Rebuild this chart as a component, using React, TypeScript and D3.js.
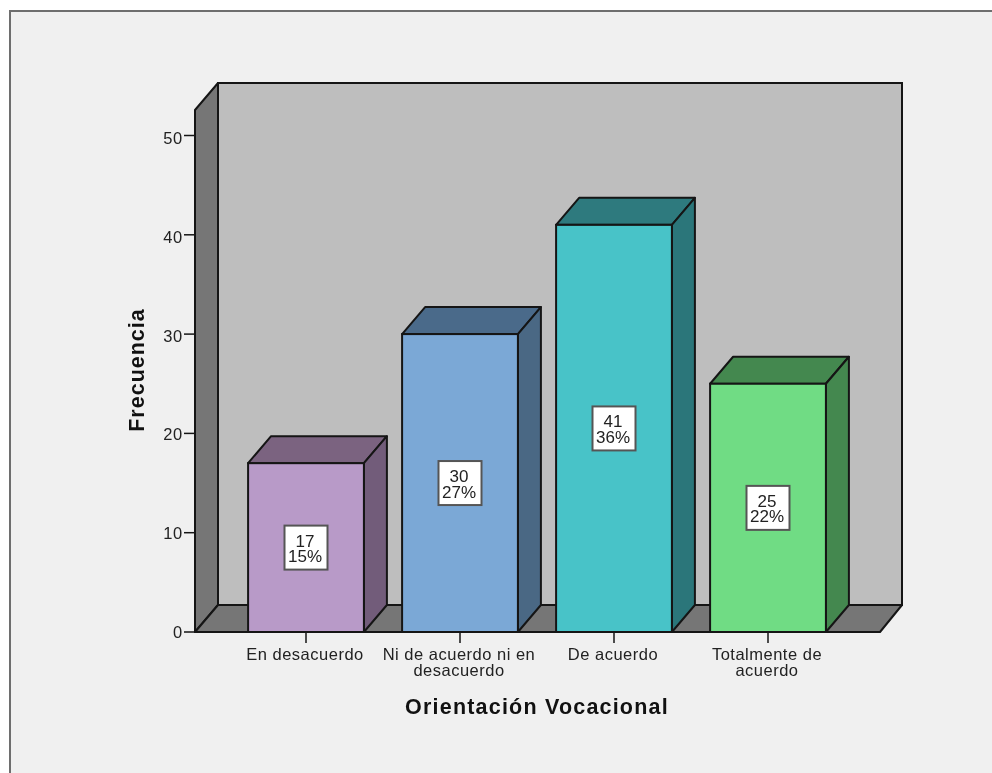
import React from "react";
import * as d3 from "d3";

const categories = ["En desacuerdo", "Ni de acuerdo ni en desacuerdo", "De acuerdo", "Totalmente de acuerdo"];
const categoryLines = [["En desacuerdo"], ["Ni de acuerdo ni en", "desacuerdo"], ["De acuerdo"], ["Totalmente de", "acuerdo"]];
const counts = [17, 30, 41, 25];
const percents = ["15%", "27%", "36%", "22%"];
const frontColors = ["#b89ac8", "#7ba8d6", "#48c3c8", "#70dc84"];
const sideColors = ["#725c7a", "#4a6884", "#2b767a", "#44884f"];
const topColors = ["#7b6380", "#4a6a8a", "#2e7a7e", "#44884f"];
const yTicks = [0, 10, 20, 30, 40, 50];

const W = 992, H = 773;
const FONT = "'Liberation Sans', Arial, sans-serif";
const INK = "#151515";

export default function App() {
  const y = d3.scaleLinear().domain([0, 50]).range([632, 135.5]);
  const x = d3.scaleBand<string>().domain(categories).range([229, 845]).paddingInner(0.248).paddingOuter(0.124);
  const dx = 23, dy = 27;
  const left = 195, right = 880, base = y(0), top = 110;
  const poly = (pts: number[][]) => pts.map((p) => p.join(",")).join(" ");
  return (
    <svg width={W} height={H} style={{ position: "absolute", left: 0, top: 0, display: "block", filter: "blur(0.35px)" }} fontFamily={FONT}>
      <rect width={W} height={H} fill="#ffffff" />
      <rect x={10} y={11} width={W} height={H} fill="#f0f0f0" stroke="#6e6e6e" strokeWidth={2} />
      {/* back wall */}
      <polygon points={poly([[left + dx, top - dy], [right + dx - 1, top - dy], [right + dx - 1, base - dy], [left + dx, base - dy]])} fill="#bebebe" stroke={INK} strokeWidth={2} />
      {/* left wall */}
      <polygon points={poly([[left, top], [left + dx, top - dy], [left + dx, base - dy], [left, base]])} fill="#767676" stroke={INK} strokeWidth={2} strokeLinejoin="round" />
      {/* floor */}
      <polygon points={poly([[left, base], [left + dx, base - dy], [right + dx - 1, base - dy], [right, base]])} fill="#767676" stroke={INK} strokeWidth={2} strokeLinejoin="round" />
      {/* y axis */}
      {yTicks.map((t) => (
        <g key={t}>
          <line x1={left - 11} x2={left} y1={y(t)} y2={y(t)} stroke={INK} strokeWidth={1.5} />
          <text x={left - 12.5} y={y(t) + 6 + t * 0.05} textAnchor="end" fontSize={16.5} letterSpacing={0.4} fill="#222">{t}</text>
        </g>
      ))}
      {/* bars */}
      {categories.map((c, i) => {
        const x0 = x(c)!, x1 = x0 + x.bandwidth(), yv = y(counts[i]), cx = (x0 + x1) / 2;
        const ly = yv + (base - yv) / 2;
        return (
          <g key={c}>
            <polygon points={poly([[x0, yv], [x0 + dx, yv - dy], [x1 + dx, yv - dy], [x1, yv]])} fill={topColors[i]} stroke={INK} strokeWidth={2} strokeLinejoin="round" />
            <polygon points={poly([[x1, yv], [x1 + dx, yv - dy], [x1 + dx, base - dy], [x1, base]])} fill={sideColors[i]} stroke={INK} strokeWidth={2} strokeLinejoin="round" />
            <rect x={x0} y={yv} width={x.bandwidth()} height={base - yv} fill={frontColors[i]} stroke={INK} strokeWidth={2} />
            <rect x={cx - 21.5} y={ly - 22} width={43} height={44} fill="#ffffff" stroke="#555" strokeWidth={2} />
            <text x={cx - 1} y={ly - 1} textAnchor="middle" fontSize={17} fill="#222">{counts[i]}</text>
            <text x={cx - 1} y={ly + 14.5} textAnchor="middle" fontSize={17} fill="#222">{percents[i]}</text>
            <line x1={cx} x2={cx} y1={base} y2={base + 11} stroke={INK} strokeWidth={1.5} />
            {categoryLines[i].map((l, k) => (
              <text key={l} x={cx - 1} y={660 + k * 15.5} textAnchor="middle" fontSize={16.5} letterSpacing={0.5} fill="#222">{l}</text>
            ))}
          </g>
        );
      })}
      <line x1={left} x2={right} y1={base} y2={base} stroke={INK} strokeWidth={2} />
      {/* axis titles */}
      <text x={537} y={714} textAnchor="middle" fontSize={21.5} fontWeight={700} letterSpacing={1.2} fill="#111">Orientación Vocacional</text>
      <text transform="translate(144,370) rotate(-90)" textAnchor="middle" fontSize={21.5} fontWeight={700} letterSpacing={1} fill="#111">Frecuencia</text>
    </svg>
  );
}
